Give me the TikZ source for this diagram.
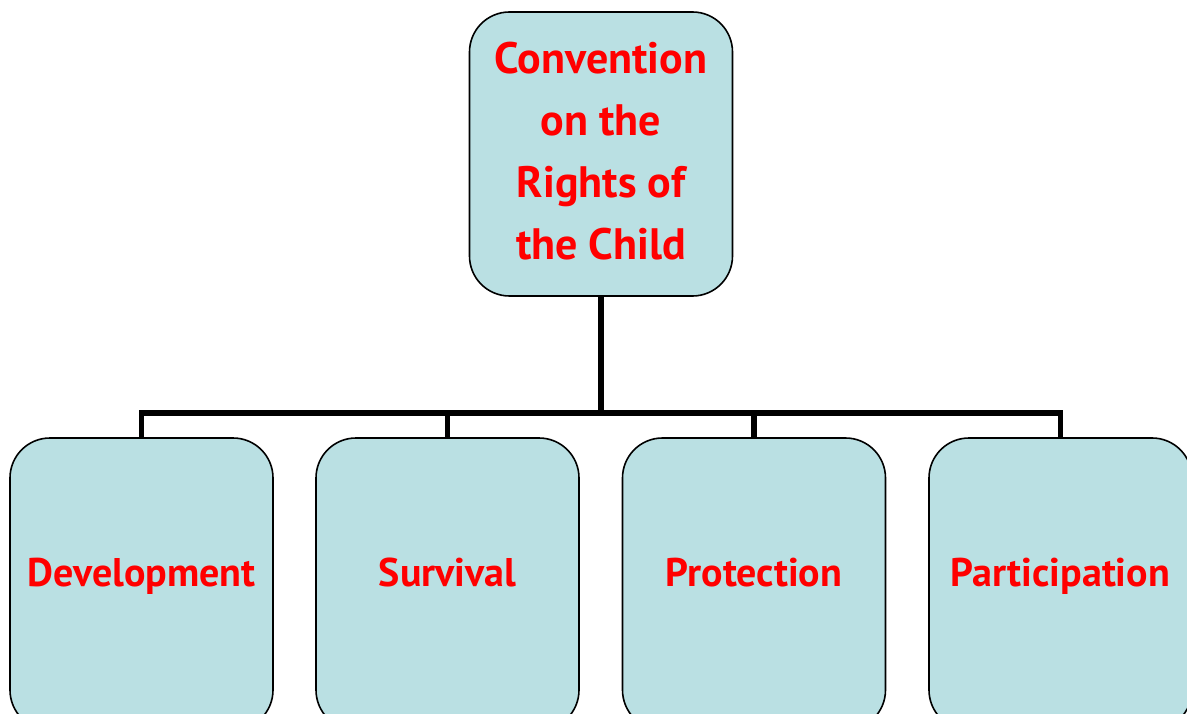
\documentclass[tikz,border=0pt]{standalone}
\usepackage{fontspec}
\setmainfont{PT Sans}
\definecolor{boxfill}{HTML}{BAE0E3}
\definecolor{txtred}{HTML}{FF0000}
\begin{document}
\begin{tikzpicture}[x=1pt,y=-1pt,
  box/.style={draw=black,line width=1.6pt,fill=boxfill,rounded corners=40pt,
    minimum width=263pt,inner sep=0pt,text=txtred,font=\bfseries\fontsize{40}{48}\selectfont},
  topbox/.style={box,minimum height=284pt,align=center,font=\bfseries\fontsize{44}{62}\selectfont},
  childbox/.style={box,minimum height=292pt},
  conn/.style={draw=black,line width=5.5pt}]
\useasboundingbox (0,0) rectangle (1187,714);
\clip (0,0) rectangle (1187,714);
\node[topbox] (root) at (601,154) {Convention\\on the\\Rights of\\the Child\rule[-6pt]{0pt}{0pt}};
\coordinate (bus) at (601,413);
\node[childbox] (dev) at (141.5,584) {\raisebox{24pt}{Development}};
\node[childbox] (sur) at (447.5,584) {\raisebox{24pt}{Survival}};
\node[childbox] (pro) at (754,584) {\raisebox{24pt}{Protection}};
\node[childbox] (par) at (1060.5,584) {\raisebox{24pt}{Participation}};
\draw[conn] (root.south) -- (bus);
\draw[conn,line join=miter] (dev.north) |- (bus) -| (par.north);
\draw[conn] (sur.north) -- (sur.north |- bus);
\draw[conn] (pro.north) -- (pro.north |- bus);
\end{tikzpicture}
\end{document}
